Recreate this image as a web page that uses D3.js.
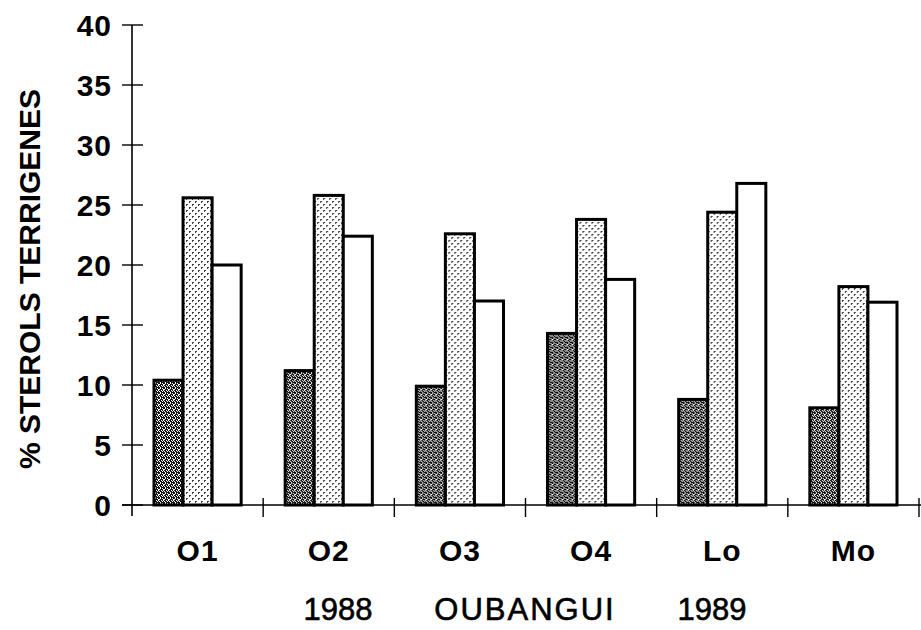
<!DOCTYPE html>
<html>
<head>
<meta charset="utf-8">
<script src="https://cdn.jsdelivr.net/npm/d3@7"></script>
<style>
  html, body { margin: 0; padding: 0; background: #fff; }
  svg { display: block; font-family: "Liberation Sans", Arial, sans-serif; }
</style>
</head>
<body>
<svg id="chart" width="921" height="630"></svg>
<script>
// ---- data ----
const categories = ["O1", "O2", "O3", "O4", "Lo", "Mo"];
const seriesNames = ["s1", "s2", "s3"];
const series1 = [10.4, 11.2, 9.9, 14.3, 8.8, 8.1];
const series2 = [25.6, 25.8, 22.6, 23.8, 24.4, 18.2];
const series3 = [20.0, 22.4, 17.0, 18.8, 26.8, 16.9];
const yTicks = [0, 5, 10, 15, 20, 25, 30, 35, 40];
const yTitle = "% STEROLS TERRIGENES";
const bottomLabels = ["1988", "OUBANGUI", "1989"];

const allSeries = [series1, series2, series3];

// ---- layout ----
const svg = d3.select("#chart");
const x0 = d3.scaleBand().domain(categories).range([132, 919]).padding(0);
const groupPad = 22;
const x1 = d3.scaleBand().domain(seriesNames).range([groupPad, x0.bandwidth() - groupPad]).padding(0);
const y = d3.scaleLinear().domain([0, 40]).range([505, 25]);

// ---- patterns ----
const defs = svg.append("defs");
const pDark = defs.append("pattern").attr("id", "pDark").attr("patternUnits", "userSpaceOnUse")
  .attr("width", 5).attr("height", 5);
pDark.append("rect").attr("width", 5).attr("height", 5).attr("fill", "#ffffff");
[[0,0],[2,0],[3,0],[1,1],[3,1],[4,1],[0,2],[1,2],[2,2],[4,2],[1,3],[2,3],[4,3],[0,4],[3,4],[4,4]].forEach(([a,b]) => {
  pDark.append("rect").attr("x", a).attr("y", b).attr("width", 1).attr("height", 1).attr("fill", "#111");
});
const pLight = defs.append("pattern").attr("id", "pLight").attr("patternUnits", "userSpaceOnUse")
  .attr("width", 6).attr("height", 6);
pLight.append("rect").attr("width", 6).attr("height", 6).attr("fill", "#ffffff");
[[0,0],[3,3],[1,0],[4,3],[0,1],[3,4]].forEach(([a,b]) => {
  pLight.append("rect").attr("x", a).attr("y", b).attr("width", 1).attr("height", 1).attr("fill", "#444");
});
const fills = ["url(#pDark)", "url(#pLight)", "#ffffff"];

// ---- bars ----
const groups = svg.append("g").selectAll("g").data(categories).join("g")
  .attr("transform", d => `translate(${x0(d)},0)`);
groups.selectAll("rect").data((d, i) => seriesNames.map((s, j) => ({ s, j, v: allSeries[j][i] })))
  .join("rect")
  .attr("x", d => x1(d.s))
  .attr("y", d => y(d.v))
  .attr("width", x1.bandwidth())
  .attr("height", d => y(0) - y(d.v))
  .attr("fill", d => fills[d.j])
  .attr("stroke", "#000")
  .attr("stroke-width", 3);

// ---- y axis ----
const yAxis = svg.append("g");
yAxis.append("line").attr("x1", 132).attr("x2", 132).attr("y1", y(40)).attr("y2", 516)
  .attr("stroke", "#000").attr("stroke-width", 1.6);
yAxis.selectAll("line.tick").data(yTicks).join("line").attr("class", "tick")
  .attr("x1", 122).attr("x2", 143).attr("y1", d => y(d)).attr("y2", d => y(d))
  .attr("stroke", "#000").attr("stroke-width", 1.4);
yAxis.selectAll("text").data(yTicks).join("text")
  .attr("x", 112).attr("y", d => y(d)).attr("dy", "0.36em")
  .attr("text-anchor", "end").attr("font-size", 30).attr("font-weight", "bold")
  .attr("letter-spacing", 1)
  .text(d => d);

svg.append("text")
  .attr("transform", "translate(40,279) rotate(-90)")
  .attr("text-anchor", "middle").attr("font-size", 30).attr("font-weight", "bold")
  .text(yTitle);

// ---- x axis ----
const xAxis = svg.append("g");
xAxis.append("line").attr("x1", 122).attr("x2", 921).attr("y1", y(0)).attr("y2", y(0))
  .attr("stroke", "#000").attr("stroke-width", 1.6);
xAxis.selectAll("line.tick").data(categories.slice(1).concat(["__end"])).join("line").attr("class", "tick")
  .attr("x1", d => d === "__end" ? x0.range()[1] : x0(d))
  .attr("x2", d => d === "__end" ? x0.range()[1] : x0(d))
  .attr("y1", y(0) - 7).attr("y2", y(0) + 12)
  .attr("stroke", "#000").attr("stroke-width", 1.4);
xAxis.selectAll("text").data(categories).join("text")
  .attr("x", d => x0(d) + x0.bandwidth() / 2).attr("y", 561)
  .attr("text-anchor", "middle").attr("font-size", 30).attr("font-weight", "bold")
  .attr("letter-spacing", 1)
  .text(d => d);

// ---- bottom line ----
const bottomX = [338, 525, 712];
svg.append("g").selectAll("text").data(bottomLabels).join("text")
  .attr("x", (d, i) => bottomX[i]).attr("y", 620)
  .attr("text-anchor", "middle").attr("font-size", 31)
  .attr("letter-spacing", (d, i) => i === 1 ? 2 : 0)
  .attr("stroke", "#000").attr("stroke-width", 0.6)
  .text(d => d);
</script>
</body>
</html>
